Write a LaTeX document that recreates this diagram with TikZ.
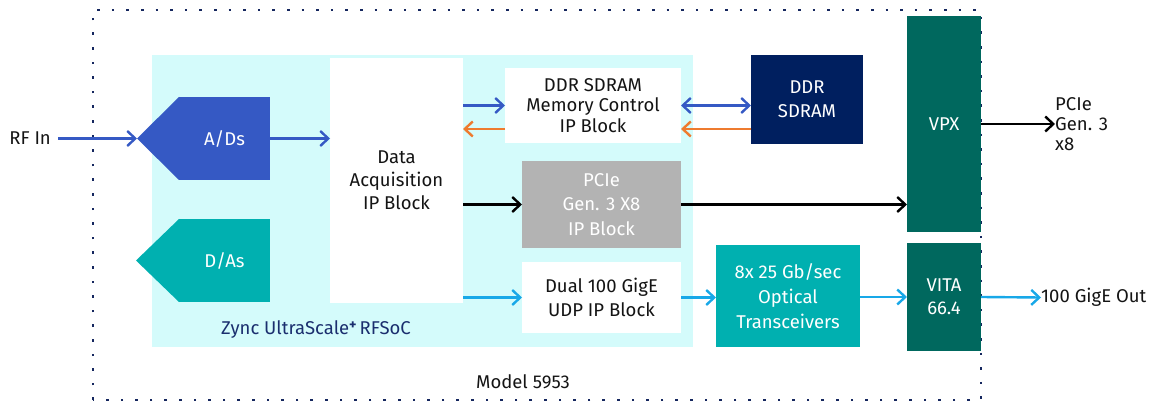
\documentclass[tikz,border=0pt]{standalone}
\usepackage{fontspec}
\setmainfont{Fira Sans}
\usetikzlibrary{arrows.meta,calc}
\definecolor{cyanbg}{HTML}{D4FBFB}
\definecolor{adblue}{HTML}{3559C4}
\definecolor{tealc}{HTML}{00B0B0}
\definecolor{navy}{HTML}{001F5F}
\definecolor{grayc}{HTML}{B3B3B3}
\definecolor{vpxc}{HTML}{00685E}
\definecolor{lblue}{HTML}{18A8E8}
\definecolor{orangec}{HTML}{EE7B2F}
\definecolor{dotc}{HTML}{15275E}
\definecolor{zyncc}{HTML}{1A2E6E}
\definecolor{txt}{HTML}{141414}
\tikzset{
  blk/.style={rectangle, inner sep=0pt, outer sep=0pt, align=center, font=\fontsize{18.5}{22}\selectfont},
  whiteblk/.style={blk, fill=white, text=txt},
  colblk/.style={blk, text=white},
  arr/.style={line width=2.4pt, -{Straight Barb[length=8pt,width=15pt]}},
  darr/.style={line width=2.4pt, {Straight Barb[length=8pt,width=15pt]}-{Straight Barb[length=8pt,width=15pt]}},
  lbl/.style={inner sep=0pt, text=txt, font=\fontsize{18.5}{20}\selectfont}
}
\begin{document}
\begin{tikzpicture}[x=1pt,y=-1pt]
\useasboundingbox (0,0) rectangle (1166,403);
% RFSoC background
\fill[cyanbg] (152,55) rectangle (693,347);
% dotted module border
\draw[dotc, line width=2.6pt, dash pattern=on 2.6pt off 12pt] (93,400) -- (93,10) -- (981,10) -- (981,400) -- cycle;
% blocks
\node[whiteblk, minimum width=133pt, minimum height=245pt, font=\fontsize{18.5}{23}\selectfont] (daq) at (396.5,180.5) {Data\\Acquisition\\IP Block};
\node[whiteblk, minimum width=176pt, minimum height=75pt, font=\fontsize{18.5}{20.5}\selectfont] (mem) at (593,105.5) {DDR SDRAM\\Memory Control\\IP Block};
\node[colblk, fill=navy, minimum width=112pt, minimum height=89pt, font=\fontsize{18.5}{24}\selectfont] (ddr) at (807,99.5) {DDR\\SDRAM};
\node[colblk, fill=grayc, minimum width=159pt, minimum height=87pt, font=\fontsize{18.5}{24.5}\selectfont] (pcie) at (601.5,204.5) {PCIe\\Gen. 3 X8\\IP Block};
\node[whiteblk, minimum width=159pt, minimum height=71pt, font=\fontsize{18.5}{24}\selectfont] (gige) at (601.5,297.5) {Dual 100 GigE\\UDP IP Block};
\node[colblk, fill=tealc, minimum width=144pt, minimum height=102pt, font=\fontsize{18.5}{25}\selectfont] (opt) at (788,296) {8x 25 Gb/sec\\Optical\\Transceivers};
\node[colblk, fill=vpxc, minimum width=74pt, minimum height=216pt] (vpx) at (944,124) {VPX};
\node[colblk, fill=vpxc, minimum width=74pt, minimum height=107pt, font=\fontsize{18.5}{23}\selectfont] (vita) at (944,297) {VITA\\66.4};
% converters (pentagons)
\node[colblk, fill=adblue, minimum width=91pt, minimum height=83pt] (ad) at (224.5,138.5) {A/Ds};
\coordinate (adtip) at (137,138.5);
\fill[adblue] (ad.north west) -- (adtip) -- (ad.south west) -- cycle;
\node[colblk, fill=tealc, minimum width=91pt, minimum height=83pt] (da) at (224.5,260.5) {D/As};
\coordinate (datip) at (136,260.5);
\fill[tealc] (da.north west) -- (datip) -- (da.south west) -- cycle;
% outside labels
\node[lbl, anchor=east] (rfin) at (51,138.5) {RF In};
\coordinate (rfstart) at (58,138.5);
\node[lbl, anchor=west, align=left, font=\fontsize{18.5}{20}\selectfont] (pcieout) at (1055,124) {PCIe\\Gen. 3\\x8};
\node[lbl, anchor=west] (gigeout) at (1041,297.5) {100 GigE Out};
\node[lbl, text=zyncc] (zync) at (316,330) {Zync UltraScale\raisebox{5pt}{\fontsize{14}{14}\selectfont\textbf{+}}\,RFSoC};
\node[lbl] (model) at (523,382) {Model 5953};
% helper coordinates for the return (orange) paths
\coordinate (memlo) at ([yshift=-23.5pt]mem.west);
\coordinate (memlo2) at ([yshift=-23.5pt]mem.east);
% connectors
\draw[arr, adblue] (rfstart) -- (adtip);
\draw[arr, adblue] (ad.east) -- (daq.west |- ad.east);
\draw[arr, adblue] (daq.east |- mem.west) -- (mem.west);
\draw[arr, orangec] (memlo) -- (daq.east |- memlo);
\draw[darr, adblue] (mem.east) -- (ddr.west |- mem.east);
\draw[arr, orangec] (ddr.west |- memlo2) -- (memlo2);
\draw[arr, black] (daq.east |- pcie.west) -- (pcie.west);
\draw[arr, black] (pcie.east) -- (vpx.west |- pcie.east);
\draw[arr, black] (vpx.east) -- (pcieout.west);
\draw[arr, lblue] (daq.east |- gige.west) -- (gige.west);
\draw[arr, lblue] (gige.east) -- (opt.west |- gige.east);
\draw[arr, lblue] (opt.east |- vita.west) -- (vita.west);
\draw[arr, lblue] (vita.east) -- (gigeout.west);
\end{tikzpicture}
\end{document}
